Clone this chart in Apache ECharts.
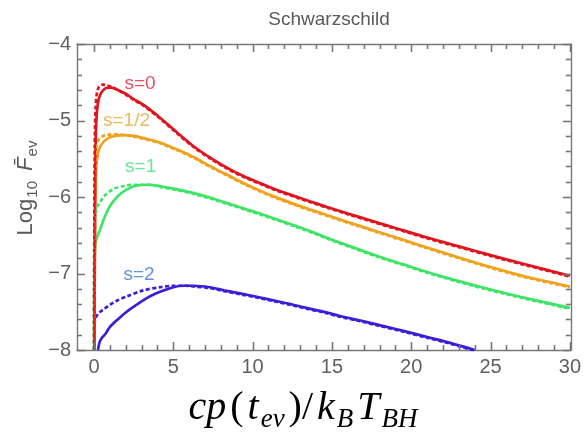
<!DOCTYPE html>
<html><head><meta charset="utf-8">
<script src="https://cdn.jsdelivr.net/npm/echarts@6/dist/echarts.min.js"></script>
<style>html,body{margin:0;padding:0;background:#fff}#c{width:584px;height:432px}</style>
</head><body><div id="c"></div>
<script>
// ---- tick values ----
const xMajorTicks = [0, 5, 10, 15, 20, 25, 30];
const xMinorTicks = [1,2,3,4,6,7,8,9,11,12,13,14,16,17,18,19,21,22,23,24,26,27,28,29];
const yMajorTicks = [-8, -7, -6, -5, -4];
const yMinorTicks = [-7.8,-7.6,-7.4,-7.2,-6.8,-6.6,-6.4,-6.2,-5.8,-5.6,-5.4,-5.2,-4.8,-4.6,-4.4,-4.2];

// ---- series data: [x, log10 F] ----
const s0Solid = [[0.03,-8],[0.05,-6.8],[0.08,-5.7],[0.12,-5.15],[0.18,-4.9],[0.27,-4.75],[0.4,-4.66],[0.6,-4.6],[0.85,-4.57],[1.1,-4.57],[1.5,-4.6],[2,-4.65],[2.5,-4.72],[3.15,-4.8],[4.2,-4.97],[5.25,-5.16],[6.3,-5.34],[7.35,-5.49],[8.4,-5.62],[9.45,-5.73],[10.5,-5.82],[11.5,-5.905],[12.6,-5.985],[13.6,-6.055],[14.7,-6.13],[16,-6.215],[17.5,-6.31],[19,-6.405],[21,-6.53],[23,-6.645],[25,-6.76],[27,-6.87],[30,-7.03]];
const s0Dash = [[0.01,-8],[0.02,-6.5],[0.05,-5.3],[0.1,-4.85],[0.2,-4.62],[0.35,-4.55],[0.55,-4.53],[0.8,-4.54],[1.1,-4.56],[1.5,-4.6],[2,-4.66],[2.5,-4.73],[3.15,-4.81],[4.2,-4.98],[5.25,-5.17],[6.3,-5.35],[7.35,-5.5],[8.4,-5.63],[9.45,-5.74],[10.5,-5.83],[11.5,-5.915],[12.6,-5.995],[13.6,-6.065],[14.7,-6.14],[16,-6.225],[17.5,-6.32],[19,-6.415],[21,-6.54],[23,-6.655],[25,-6.77],[27,-6.88],[30,-7.04]];

const sHalfSolid = [[0.03,-8],[0.06,-6.6],[0.1,-5.9],[0.15,-5.6],[0.25,-5.43],[0.4,-5.34],[0.6,-5.28],[0.9,-5.23],[1.3,-5.2],[1.9,-5.19],[2.5,-5.2],[3.15,-5.23],[4.2,-5.29],[5.25,-5.38],[6.3,-5.48],[7.35,-5.6],[8.4,-5.71],[9.45,-5.82],[10.5,-5.92],[11.5,-6.005],[12.6,-6.09],[13.8,-6.175],[15.1,-6.265],[16.5,-6.36],[18,-6.46],[19.5,-6.56],[21,-6.66],[23,-6.79],[25,-6.915],[27,-7.03],[30,-7.17]];
const sHalfDash = [[0.01,-8],[0.03,-6.5],[0.07,-5.6],[0.15,-5.35],[0.3,-5.25],[0.5,-5.21],[0.8,-5.19],[1.2,-5.18],[1.9,-5.19],[2.5,-5.21],[3.15,-5.24],[4.2,-5.3],[5.25,-5.39],[6.3,-5.49],[7.35,-5.61],[8.4,-5.72],[9.45,-5.83],[10.5,-5.93],[11.5,-6.015],[12.6,-6.1],[13.8,-6.185],[15.1,-6.275],[16.5,-6.37],[18,-6.47],[19.5,-6.57],[21,-6.67],[23,-6.8],[25,-6.925],[27,-7.04],[30,-7.18]];

const s1Solid = [[0.01,-8],[0.02,-7.2],[0.05,-6.75],[0.1,-6.6],[0.2,-6.52],[0.38,-6.43],[0.6,-6.3],[0.85,-6.18],[1.1,-6.09],[1.5,-5.99],[2,-5.91],[2.7,-5.85],[3.5,-5.84],[4.2,-5.86],[5.25,-5.9],[6.3,-5.95],[7.35,-6.01],[8.4,-6.08],[9.45,-6.15],[10.5,-6.22],[11.5,-6.29],[12.6,-6.37],[13.8,-6.46],[14.9,-6.55],[16.5,-6.67],[18,-6.78],[19.5,-6.88],[21,-6.98],[23,-7.1],[25,-7.21],[27,-7.31],[30,-7.45]];
const s1Dash = [[0.0,-8],[0.01,-7],[0.03,-6.5],[0.08,-6.25],[0.2,-6.13],[0.38,-6.07],[0.6,-6.0],[0.9,-5.94],[1.3,-5.89],[1.8,-5.86],[2.5,-5.84],[3.5,-5.84],[4.2,-5.87],[5.25,-5.91],[6.3,-5.96],[7.35,-6.02],[8.4,-6.09],[9.45,-6.16],[10.5,-6.23],[11.5,-6.3],[12.6,-6.38],[13.8,-6.47],[14.9,-6.56],[16.5,-6.68],[18,-6.79],[19.5,-6.89],[21,-6.99],[23,-7.11],[25,-7.22],[27,-7.32],[30,-7.46]];

const s2Solid = [[0.25,-8],[0.35,-7.9],[0.5,-7.84],[0.6,-7.82],[0.75,-7.78],[1.0,-7.7],[1.5,-7.6],[2.06,-7.5],[2.6,-7.42],[3.1,-7.35],[3.6,-7.29],[4.16,-7.24],[5,-7.18],[5.6,-7.16],[6.3,-7.16],[7.3,-7.18],[8.2,-7.22],[9.2,-7.26],[10.4,-7.31],[11.5,-7.36],[12.5,-7.405],[13.4,-7.45],[14.5,-7.5],[15.5,-7.555],[16.8,-7.615],[18,-7.675],[19.5,-7.75],[21,-7.83],[22.5,-7.91],[24,-8.0]];
const s2Dash = [[0.02,-8],[0.04,-7.65],[0.1,-7.58],[0.25,-7.53],[0.4,-7.5],[0.6,-7.47],[1.0,-7.41],[1.5,-7.35],[2.06,-7.3],[3.1,-7.22],[4.16,-7.18],[5,-7.16],[5.8,-7.16],[6.3,-7.17],[7.3,-7.19],[8.2,-7.23],[9.2,-7.27],[10.4,-7.32],[11.5,-7.37],[12.5,-7.415],[13.4,-7.46],[14.5,-7.51],[15.5,-7.565],[16.8,-7.625],[18,-7.685],[19.5,-7.76],[21,-7.84],[22.5,-7.92],[24,-8.01]];

// ---- curve labels ----
const curveLabels = ['s=0', 's=1/2', 's=1', 's=2'];
const curveLabelPos = [[2.9,-4.52],[2.05,-5.01],[2.94,-5.61],[2.84,-7.02]];

const colRed = '#e0141e', colOrange = '#f0a21c', colGreen = '#3ee466', colBlue = '#3a1ed8';
const labelColors = ['#e0203a', '#e8a836', '#44e07c', '#3f70d8'];

const frameColor = '#777777';
const tickLabelColor = '#606060';
const font = 'Liberation Sans, Arial, sans-serif';
const MAJOR_LEN = 8, MINOR_LEN = 5;

const chart = echarts.init(document.getElementById('c'));

function xAxisDef(pos, showLabel) {
  return {
    type: 'value', position: pos, min: -1.07, max: 30.06,
    axisLine: {show: true, onZero: false, lineStyle: {color: frameColor, width: 1.4}},
    axisTick: {show: false},
    axisLabel: {show: showLabel, customValues: xMajorTicks, color: tickLabelColor, fontSize: 20, fontFamily: font, margin: 7},
    splitLine: {show: false}
  };
}
function yAxisDef(pos, showLabel) {
  return {
    type: 'value', position: pos, min: -8, max: -4, interval: 1,
    axisLine: {show: true, onZero: false, lineStyle: {color: frameColor, width: 1.4}},
    axisTick: {show: false},
    minorTick: {show: false},
    axisLabel: {show: showLabel, color: tickLabelColor, fontSize: 20, fontFamily: font, margin: 6,
      formatter: v => (v < 0 ? '\u2212' : '') + Math.abs(v)},
    splitLine: {show: false}
  };
}

function lineSeries(data, color, dashed, z) {
  return {
    type: 'line', data: data, xAxisIndex: 0, yAxisIndex: 0, showSymbol: false, symbol: 'none',
    smooth: 0.3, clip: true, z: z, silent: true,
    lineStyle: {color: color, width: 2.7, type: dashed ? [4, 2.5] : 'solid'}
  };
}

// frame ticks drawn through the cartesian coordinate system
const xTickData = xMajorTicks.map(v => [v, MAJOR_LEN]).concat(xMinorTicks.map(v => [v, MINOR_LEN]));
const yTickData = yMajorTicks.map(v => [v, MAJOR_LEN]).concat(yMinorTicks.map(v => [v, MINOR_LEN]));

function tickStyle() { return {stroke: frameColor, lineWidth: 1.6, fill: null}; }

const xTickSeries = {
  type: 'custom', xAxisIndex: 0, yAxisIndex: 0, data: xTickData, encode: {x: 0}, clip: false, silent: true, z: 6,
  renderItem: function (params, api) {
    const cs = params.coordSys;
    const len = api.value(1);
    const p = api.coord([api.value(0), -6]);
    const x = Math.round(p[0]) + 0.5, yb = cs.y + cs.height, yt = cs.y;
    return {type: 'group', children: [
      {type: 'line', shape: {x1: x, y1: yb, x2: x, y2: yb - len}, style: tickStyle()},
      {type: 'line', shape: {x1: x, y1: yt, x2: x, y2: yt + len}, style: tickStyle()}
    ]};
  }
};
const yTickSeries = {
  type: 'custom', xAxisIndex: 0, yAxisIndex: 0, data: yTickData, encode: {y: 0}, clip: false, silent: true, z: 6,
  renderItem: function (params, api) {
    const cs = params.coordSys;
    const len = api.value(1);
    const p = api.coord([10, api.value(0)]);
    const y = Math.round(p[1]) + 0.5, xl = cs.x, xr = cs.x + cs.width;
    return {type: 'group', children: [
      {type: 'line', shape: {x1: xl, y1: y, x2: xl + len, y2: y}, style: tickStyle()},
      {type: 'line', shape: {x1: xr, y1: y, x2: xr - len, y2: y}, style: tickStyle()}
    ]};
  }
};

const series = [
  lineSeries(s2Dash, colBlue, true, 3), lineSeries(s2Solid, colBlue, false, 2),
  lineSeries(s1Dash, colGreen, true, 3), lineSeries(s1Solid, colGreen, false, 2),
  lineSeries(sHalfDash, colOrange, true, 3), lineSeries(sHalfSolid, colOrange, false, 2),
  lineSeries(s0Dash, colRed, true, 3), lineSeries(s0Solid, colRed, false, 2),
  xTickSeries, yTickSeries
];
curveLabels.forEach((t, i) => {
  series.push({
    type: 'scatter', data: [curveLabelPos[i]], xAxisIndex: 0, yAxisIndex: 0, symbolSize: 0, silent: true, z: 5,
    label: {show: true, position: 'inside', formatter: t, color: labelColors[i], fontSize: 19, fontFamily: font}
  });
});

chart.setOption({
  animation: false,
  backgroundColor: '#ffffff',
  grid: {left: 77, right: 13, top: 44, bottom: 82},
  title: {text: 'Schwarzschild', left: 324, top: 5, textAlign: 'center',
    textStyle: {color: '#5a5a5a', fontSize: 19, fontWeight: 'normal', fontFamily: font}},
  xAxis: [xAxisDef('bottom', true), xAxisDef('top', false)],
  yAxis: [yAxisDef('left', true), yAxisDef('right', false)],
  graphic: [
    {type: 'text', x: 26, y: 188, rotation: Math.PI / 2, silent: true,
      style: {
        text: '{a|Log}{s|10}{a| }{i|F\u0304}{s|ev}',
        align: 'center', verticalAlign: 'middle',
        rich: {
          a: {fontSize: 22, fontFamily: font, fill: '#5a5a5a', lineHeight: 28},
          i: {fontSize: 22, fontFamily: font, fontStyle: 'italic', fill: '#5a5a5a', lineHeight: 28, padding: [0, 0, 0, 4]},
          s: {fontSize: 15, fontFamily: font, fill: '#5a5a5a', lineHeight: 15, padding: [13, 0, 0, 1]}
        }
      }},
    {type: 'text', x: 303, y: 408, silent: true,
      style: {
        text: '{i|cp}{r|(}{i|t}{s|ev}{r|)/}{i|k}{s|B}{i|T}{s|BH}',
        align: 'center', verticalAlign: 'middle',
        rich: {
          i: {fontSize: 40, fontFamily: 'Liberation Serif, DejaVu Serif, serif', fontStyle: 'italic', fill: '#000', lineHeight: 54, padding: [0, 2, 0, 2]},
          r: {fontSize: 40, fontFamily: 'Liberation Serif, DejaVu Serif, serif', fill: '#000', lineHeight: 54, padding: [0, 2, 0, 2]},
          s: {fontSize: 27, fontFamily: 'Liberation Serif, DejaVu Serif, serif', fontStyle: 'italic', fill: '#000', lineHeight: 27, padding: [25, 2, 2, 0]}
        }
      }}
  ],
  series: series
});
</script>
</body></html>
